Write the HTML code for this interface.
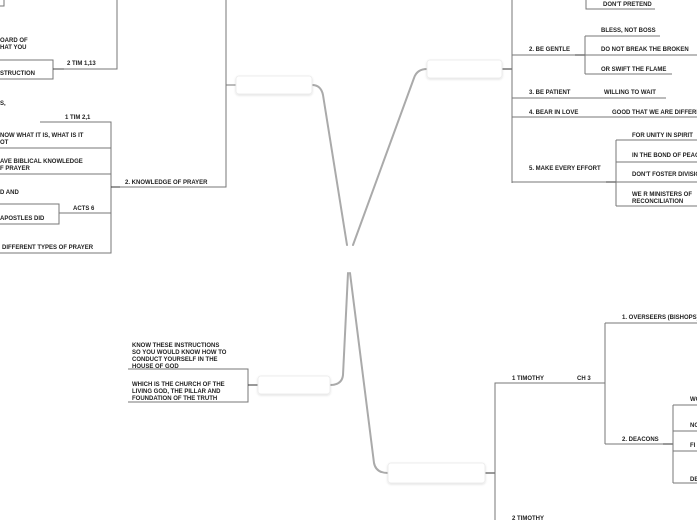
<!DOCTYPE html>
<html><head><meta charset="utf-8"><style>
html,body{margin:0;padding:0;background:#fff;}
svg{display:block;}
text{font-family:"Liberation Sans",sans-serif;font-size:6px;font-weight:bold;fill:#222;}
</style></head><body>
<svg width="697" height="520" viewBox="0 0 697 520" xmlns="http://www.w3.org/2000/svg">
<defs><filter id="sh" x="-20%" y="-50%" width="140%" height="200%"><feDropShadow dx="0" dy="1" stdDeviation="1" flood-color="#000" flood-opacity="0.12"/></filter></defs>
<g fill="none" stroke="#777" stroke-width="1">
<!-- left top -->
<path d="M4 0V6H0"/>
<path d="M117 0V69H64"/>
<path d="M0 60H53V79H0"/>
<path d="M53 69H64" stroke="#444"/>
<path d="M40 122H111V253H0"/>
<path d="M0 148H111M0 174H111"/>
<path d="M111 187H226V0"/>
<path d="M111 187H120" stroke="#333"/>
<path d="M0 204H59V224H0"/>
<path d="M59 213H111"/>
<path d="M226 85H236"/>
<!-- right top -->
<path d="M502 69H512" stroke="#333"/>
<path d="M512 0V183"/>
<path d="M586 0V9H655"/>
<path d="M512 55H575"/>
<path d="M575 55H585" stroke="#333"/>
<path d="M585 36V74M585 36H660M585 55H697M585 74H672"/>
<path d="M512 98H666M512 117H697"/>
<path d="M512 182H606"/>
<path d="M606 182H616" stroke="#333"/>
<path d="M616 140V206M616 140H697M616 162H697M616 182H697M616 206H697"/>
<!-- left middle -->
<path d="M128 369H248V402H128"/>
<path d="M248 385H258" stroke="#333"/>
<!-- bottom right -->
<path d="M485 473H495" stroke="#333"/>
<path d="M495 520V383H605"/>
<path d="M605 323V444M605 323H697M605 444H673"/>
<path d="M663 444H673" stroke="#333"/>
<path d="M673 405V483M673 405H697M673 431H697M673 451H697M673 483H697"/>
</g>
<!-- main connectors -->
<g fill="none" stroke="#aaa" stroke-linecap="round">
<path d="M312 85Q321 85 323 95L347 245" stroke-width="2"/>
<path d="M353 245L414 78Q417 69 427 69" stroke-width="2"/>
<path d="M330 385Q342 385 343 375L348 273" stroke-width="2"/>
<path d="M350 273L374 463Q376 473 388 473" stroke-width="2"/>
</g>
<g fill="#fff" stroke="#eee" filter="url(#sh)">
<rect x="236" y="76" width="76" height="18" rx="3"/>
<rect x="427" y="60" width="75" height="18" rx="3"/>
<rect x="258" y="376" width="72" height="18" rx="3"/>
<rect x="388" y="463" width="97" height="20" rx="3"/>
</g>
<!-- texts left top -->
<text x="0" y="42">OARD OF</text>
<text x="0" y="49">HAT YOU</text>
<text x="67" y="65">2 TIM 1,13</text>
<text x="0" y="75">STRUCTION</text>
<text x="0" y="105">S,</text>
<text x="65" y="119">1 TIM 2,1</text>
<text x="0" y="137">NOW WHAT IT IS, WHAT IS IT</text>
<text x="0" y="144">OT</text>
<text x="0" y="163">AVE BIBLICAL KNOWLEDGE</text>
<text x="0" y="170">F PRAYER</text>
<text x="125" y="184">2. KNOWLEDGE OF PRAYER</text>
<text x="0" y="194">D AND</text>
<text x="73" y="210">ACTS 6</text>
<text x="0" y="220">APOSTLES DID</text>
<text x="2" y="249">DIFFERENT TYPES OF PRAYER</text>
<!-- right top -->
<text x="603" y="6">DON'T PRETEND</text>
<text x="601" y="32">BLESS, NOT BOSS</text>
<text x="529" y="51">2. BE GENTLE</text>
<text x="601" y="51">DO NOT BREAK THE BROKEN</text>
<text x="601" y="71">OR SWIFT THE FLAME</text>
<text x="529" y="94">3. BE PATIENT</text>
<text x="604" y="94">WILLING TO WAIT</text>
<text x="529" y="114">4. BEAR IN LOVE</text>
<text x="612" y="114">GOOD THAT WE ARE DIFFERENT</text>
<text x="632" y="137">FOR UNITY IN SPIRIT</text>
<text x="632" y="157">IN THE BOND OF PEACE</text>
<text x="529" y="170">5. MAKE EVERY EFFORT</text>
<text x="632" y="176">DON'T FOSTER DIVISION</text>
<text x="632" y="196">WE R MINISTERS OF</text>
<text x="632" y="203">RECONCILIATION</text>
<!-- left middle -->
<text x="132" y="347">KNOW THESE INSTRUCTIONS</text>
<text x="132" y="354">SO YOU WOULD KNOW HOW TO</text>
<text x="132" y="361">CONDUCT YOURSELF IN THE</text>
<text x="132" y="368">HOUSE OF GOD</text>
<text x="132" y="386">WHICH IS THE CHURCH OF THE</text>
<text x="132" y="393">LIVING GOD, THE PILLAR AND</text>
<text x="132" y="400">FOUNDATION OF THE TRUTH</text>
<!-- bottom right -->
<text x="622" y="319">1. OVERSEERS (BISHOPS)</text>
<text x="512" y="380">1 TIMOTHY</text>
<text x="577" y="380">CH 3</text>
<text x="690" y="401">WO</text>
<text x="690" y="427">NO</text>
<text x="622" y="441">2. DEACONS</text>
<text x="690" y="447">FI</text>
<text x="690" y="481">DE</text>
<text x="512" y="520">2 TIMOTHY</text>
</svg>
</body></html>
